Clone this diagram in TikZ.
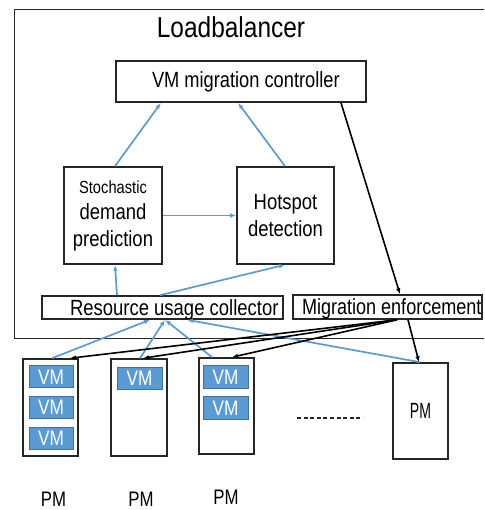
\documentclass[tikz,border=0pt]{standalone}
\usepackage{fontspec}
\setmainfont{Liberation Sans}
\usepackage{graphicx}
\usetikzlibrary{arrows.meta,calc}
\definecolor{arblue}{HTML}{5B9BD5}
\definecolor{vmfill}{HTML}{5B9BD5}
\definecolor{vmedge}{HTML}{41719C}
\definecolor{edge}{HTML}{262626}
\newcommand\tx[3]{{\fontsize{#1}{#1}\selectfont\scalebox{#2}[1]{#3}}}
\begin{document}
\begin{tikzpicture}[x=1pt,y=-1pt,
  frame/.style={draw=edge,line width=1.6pt,inner sep=0pt},
  onel/.style={text height=15.75pt,text depth=0pt},
  vm/.style={fill=vmfill,draw=vmedge,line width=1pt,inner sep=0pt,
     minimum width=44pt,minimum height=22pt,text=white,text height=15pt,text depth=0pt},
  pmbox/.style={frame,minimum width=55pt,minimum height=97pt},
  blue arrow/.style={draw=arblue,line width=1.7pt,-{Latex[length=6pt,width=4.5pt]}},
  black arrow/.style={draw=black,line width=1.6pt,-{Latex[length=6pt,width=4.5pt]}},
  multi/.style={align=center,font=\fontsize{22}{26.5}\selectfont}
]
\useasboundingbox (0,0) rectangle (484,510);
\clip (0,0) rectangle (484,510);

% outer load balancer frame
\node[draw=edge,line width=1.4pt,inner sep=0pt,minimum width=478pt,minimum height=329pt,anchor=north west] (lb) at (14,9) {};
\node[anchor=base] (title) at (231,37.3) {\tx{28.8}{0.85}{Loadbalancer}};

% boxes
\node[frame,minimum width=250pt,minimum height=41pt] (ctrl) at (241,81.5)
  {\makebox[250pt][l]{\hspace*{36pt}\tx{22}{0.83}{VM migration controller}}};
\node[frame,multi,minimum width=98pt,minimum height=97pt] (stoch) at (113,215.5)
  {\tx{17.5}{0.84}{Stochastic}\\\tx{22}{0.84}{demand}\\\tx{22}{0.84}{prediction}};
\node[frame,multi,font=\fontsize{22}{27.3}\selectfont,minimum width=97pt,minimum height=97pt] (hot) at (285.5,215.5)
  {\tx{22}{0.84}{Hotspot}\\\tx{22}{0.84}{detection}};
\node[frame,onel,minimum width=241pt,minimum height=23pt] (ruc) at (162.5,307.5)
  {\makebox[241pt][l]{\hspace*{28pt}\tx{22}{0.84}{Resource usage collector}}};
\node[frame,onel,minimum width=189pt,minimum height=24pt] (me) at (387.5,307)
  {\makebox[189pt][l]{\hspace*{9pt}\tx{22}{0.82}{Migration enforcement}}};

% physical machines
\node[pmbox] (pm1) at (50.5,407.5) {};
\node[pmbox,minimum width=56pt] (pm2) at (139,407.5) {};
\node[pmbox,minimum height=96pt] (pm3) at (226.5,406) {};
\node[pmbox,onel,minimum height=96pt] (pm4) at (420.5,411) {\tx{22}{0.64}{PM}};

% virtual machines
\node[vm] (v11) at (51,376.5) {\tx{21}{0.82}{VM}};
\node[vm] (v12) at (51,407) {\tx{21}{0.82}{VM}};
\node[vm] (v13) at (51,438) {\tx{21}{0.82}{VM}};
\node[vm,minimum width=45pt] (v21) at (139.5,378) {\tx{21}{0.82}{VM}};
\node[vm,minimum width=45pt,minimum height=23pt] (v31) at (225.5,376.5) {\tx{21}{0.82}{VM}};
\node[vm,minimum width=45pt,minimum height=23pt] (v32) at (225.5,407.5) {\tx{21}{0.82}{VM}};

% labels below
\node[anchor=base] (l1) at (53.5,506) {\tx{21}{0.8}{PM}};
\node[anchor=base] (l2) at (141,506) {\tx{21}{0.8}{PM}};
\node[anchor=base] (l3) at (226,504.5) {\tx{21}{0.8}{PM}};

% dotted ellipsis
\draw[edge,line width=1.9pt,dash pattern=on 4pt off 2.6pt] (297,418) -- (363,418);

% blue data-flow arrows
\draw[blue arrow] ($(stoch.north)+(2,0)$) -- ($(ctrl.south)+(-80,0)$);
\draw[blue arrow] ($(hot.north)+(-0.5,0)$) -- ($(ctrl.south)+(-3,0)$);
\draw[blue arrow] (stoch.east) -- (hot.west);
\draw[blue arrow] ($(ruc.north)+(-45.5,0)$) -- ($(stoch.south)+(2,0)$);
\draw[blue arrow] ($(ruc.north)+(-2.5,0)$) -- ($(hot.south)+(-0.5,0)$);
\draw[blue arrow] ($(pm1.north)+(1.5,0)$) -- ($(ruc.south)+(-12.5,0)$);
\draw[blue arrow] ($(pm2.north)+(1,0)$) -- ($(ruc.south)+(2.5,0)$);
\draw[blue arrow] ($(pm3.north)+(-14.5,0)$) -- ($(ruc.south)+(2.5,0)$);
\draw[blue arrow] ($(pm4.north)+(-0.5,0)$) -- ($(ruc.south)+(24.5,0)$);

% black control arrows
\draw[black arrow] ($(ctrl.south)+(100,0)$) -- ($(me.north)+(12.5,0)$);
\draw[black arrow] ($(me.south)+(20.5,0)$) -- ($(pm4.north)+(-1.5,0)$);
\draw[black arrow] ($(me.south)+(9.5,0)$) -- ($(pm1.north)+(19.5,0)$);
\draw[black arrow] ($(me.south)+(9.5,0)$) -- ($(pm2.north)+(4,0)$);
\draw[black arrow] ($(me.south)+(9.5,0)$) -- ($(pm3.north)+(5.5,0)$);
\end{tikzpicture}
\end{document}
